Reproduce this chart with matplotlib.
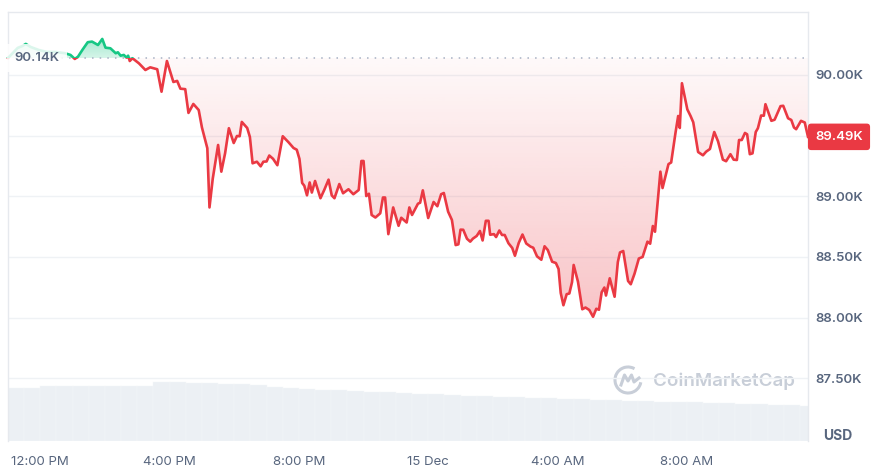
import numpy as np
import matplotlib
matplotlib.use("Agg")
import matplotlib.pyplot as plt
from matplotlib.patches import Rectangle, Arc
from matplotlib.path import Path
from matplotlib.transforms import blended_transform_factory, IdentityTransform

plt.rcParams['font.family'] = ['Inter', 'DejaVu Sans']

# ---------------------------
# Price data (minutes after 12:00 PM, 14 Dec; price in USD)
# ---------------------------
minutes = [
    -60, -51, -42, -33, -27, -18, -3, 12, 28, 46, 56, 64, 70, 78, 88, 96, 107, 115,
    121, 130, 140, 144, 149, 155, 160, 163, 166, 171, 183, 195, 204, 217, 225, 235,
    247, 254, 260, 269, 275, 284, 294, 300, 306, 310, 314, 320, 330, 336, 343, 350,
    359, 365, 370, 374, 384, 389, 394, 402, 409, 414, 420, 425, 432, 440, 450, 461,
    470, 476, 481, 486, 490, 495, 500, 504, 510, 520, 527, 535, 541, 546, 555, 562,
    572, 581, 591, 596, 600, 605, 610, 615, 622, 631, 636, 640, 646, 655, 665, 670,
    680, 685, 690, 701, 705, 710, 720, 730, 737, 744, 749, 757, 764, 771, 776, 780,
    785, 792, 798, 803, 810, 816, 821, 827, 832, 835, 842, 846, 852, 857, 862, 869,
    876, 881, 888, 895, 902, 910, 915, 922, 930, 936, 942, 950, 957, 962, 966, 971,
    977, 982, 987, 990, 998, 1006, 1012, 1019, 1026, 1032, 1037, 1042, 1047, 1050,
    1057, 1066, 1072, 1076, 1082, 1091, 1096, 1103, 1111, 1118, 1127, 1132, 1137,
    1141, 1151, 1155, 1166, 1171, 1179, 1184, 1187, 1191, 1201, 1207, 1212, 1221,
    1230, 1236, 1243, 1251, 1258, 1267, 1273, 1281, 1287, 1293, 1297, 1302, 1308,
    1312, 1317, 1322, 1328, 1332, 1338, 1343, 1346, 1357, 1363, 1374, 1379, 1388,
    1394, 1399, 1403, 1412, 1419, 1425,
]
price = [
    90140, 90181, 90223, 90239, 90256, 90231, 90206, 90190, 90190, 90179, 90165,
    90132, 90151, 90206, 90270, 90275, 90247, 90297, 90225, 90220, 90179, 90187,
    90159, 90165, 90143, 90159, 90115, 90138, 90096, 90041, 90063, 90047, 89862,
    90115, 89942, 89951, 89887, 89883, 89687, 89761, 89711, 89567, 89464, 89396,
    88908, 89143, 89423, 89203, 89355, 89561, 89439, 89497, 89495, 89613, 89563,
    89489, 89272, 89285, 89247, 89285, 89287, 89336, 89309, 89256, 89495, 89444,
    89398, 89384, 89308, 89110, 89087, 89008, 89114, 89031, 89126, 88984, 89052,
    89137, 89007, 88984, 89101, 89025, 89058, 89017, 89052, 89291, 89291, 89002,
    89021, 88846, 88825, 88860, 88990, 88990, 88688, 88908, 88757, 88823, 88784,
    88908, 88846, 88939, 88947, 89049, 88821, 88953, 88918, 89017, 89027, 88873,
    88805, 88598, 88604, 88725, 88724, 88650, 88626, 88651, 88673, 88714, 88636,
    88798, 88798, 88683, 88688, 88664, 88718, 88681, 88681, 88613, 88574, 88510,
    88615, 88685, 88611, 88585, 88576, 88505, 88477, 88588, 88557, 88461, 88450,
    88401, 88203, 88102, 88193, 88199, 88293, 88434, 88296, 88069, 88083, 88063,
    88007, 88073, 88065, 88209, 88248, 88182, 88324, 88172, 88458, 88537, 88549,
    88302, 88275, 88362, 88487, 88500, 88626, 88609, 88755, 88708, 89203, 89068,
    89265, 89279, 89522, 89662, 89563, 89932, 89716, 89662, 89610, 89365, 89338,
    89368, 89390, 89530, 89453, 89302, 89289, 89347, 89302, 89299, 89464, 89464,
    89522, 89511, 89347, 89354, 89530, 89561, 89666, 89664, 89759, 89622, 89631,
    89743, 89746, 89643, 89629, 89567, 89553, 89622, 89608, 89490,
]

# 24h volume, 30-minute bins (billions USD)
vol_minutes = [
    -60, -30, 0, 30, 60, 90, 120, 150, 180, 210, 240, 270, 300, 330, 360, 390,
    420, 450, 480, 510, 540, 570, 600, 630, 660, 690, 720, 750, 780, 810, 840,
    870, 900, 930, 960, 990, 1020, 1050, 1080, 1110, 1140, 1170, 1200, 1230,
    1260, 1290, 1320, 1350, 1380, 1410,
]
volume = [
    53.0, 53.0, 55.0, 55.0, 55.0, 55.0, 55.0, 55.0, 55.5, 59.3, 59.0, 58.5, 58.0,
    57.5, 57.0, 56.0, 54.5, 53.5, 52.5, 51.5, 51.0, 50.5, 49.5, 49.0, 48.0, 47.5,
    47.0, 46.0, 45.5, 45.0, 44.5, 44.0, 43.5, 43.0, 42.5, 42.0, 41.5, 41.0, 40.5,
    40.0, 39.5, 39.2, 39.0, 38.5, 38.0, 37.5, 37.0, 36.5, 36.0, 35.5,
]

open_price = 90140
last_price = 89490

tick_minutes = [0, 240, 480, 720, 960, 1200]
tick_labels = ["12:00 PM", "4:00 PM", "8:00 PM", "15 Dec", "4:00 AM", "8:00 AM"]
price_ticks = [87500, 88000, 88500, 89000, 89500, 90000]
price_labels = ["87.50K", "88.00K", "88.50K", "89.00K", "", "90.00K"]

RED = "#ea3943"
GREEN = "#16c784"
TEXT = "#58667e"
GRID = "#eff2f5"

t = np.array(minutes, dtype=float)
p = np.array(price, dtype=float)

fig = plt.figure(figsize=(8.86, 4.70), dpi=100)
ax_pos = [8 / 886, 1 - 441 / 470, 800 / 886, 429 / 470]

# ---------------------------
# Volume panel (behind the price chart)
# ---------------------------
vax = fig.add_axes([ax_pos[0], ax_pos[1], ax_pos[2], 60 / 470], zorder=0)
vax.bar(vol_minutes, volume, width=30, align='edge', color="#ecf0f4",
        edgecolor="#f4f6f9", linewidth=0.3)
vax.set_xlim(t[0], t[-1])
vax.set_ylim(0, 60)
vax.axis('off')

# ---------------------------
# Price panel
# ---------------------------
ax = fig.add_axes(ax_pos, zorder=1)
ax.patch.set_alpha(0)
ax.set_xlim(t[0], t[-1])
ax.set_ylim(86983, 90519)

for yv in price_ticks:
    ax.axhline(yv, color=GRID, lw=1, zorder=0)


def gradient_fill(mask, rgb, a_base, a_far, far):
    coll = ax.fill_between(t, p, open_price, where=mask, interpolate=True,
                           facecolor='none', edgecolor='none')
    paths = coll.get_paths()
    if not paths:
        return
    clip = Path.make_compound_path(*paths)
    n = 256
    img = np.zeros((n, 1, 4))
    img[..., :3] = rgb
    if far < open_price:
        lo, hi = far, open_price
        img[:, 0, 3] = np.linspace(a_far, a_base, n)
    else:
        lo, hi = open_price, far
        img[:, 0, 3] = np.linspace(a_base, a_far, n)
    im = ax.imshow(img, extent=[t[0], t[-1], lo, hi], origin='lower',
                   aspect='auto', zorder=1, interpolation='bilinear')
    im.set_clip_path(clip, ax.transData)


red_rgb = np.array([234, 57, 67]) / 255
green_rgb = np.array([22, 199, 132]) / 255
gradient_fill(p <= open_price, red_rgb, 0.03, 0.30, p.min())
gradient_fill(p >= open_price, green_rgb, 0.18, 0.40, p.max())

# line, coloured above / below the opening price
for col, y0, h in [(GREEN, open_price, 5000), (RED, open_price - 5000, 5000)]:
    ln, = ax.plot(t, p, color=col, lw=1.9, zorder=3, solid_joinstyle='round')
    ln.set_clip_path(Rectangle((t[0] - 100, y0), 2000, h, transform=ax.transData))

ax.axhline(open_price, color="#a6b0c3", lw=1.1, ls=(0, (1, 4)), zorder=2)

# axes styling
ax.yaxis.tick_right()
ax.set_yticks(price_ticks)
ax.set_yticklabels(price_labels)
ax.set_xticks(tick_minutes)
ax.set_xticklabels(tick_labels)
ax.tick_params(axis='y', length=0, pad=5, labelsize=9.5, labelcolor=TEXT)
ax.tick_params(axis='x', length=0, pad=11, labelsize=9.5, labelcolor=TEXT)
for lbl in ax.get_yticklabels():
    lbl.set_fontweight('semibold')
for side in ['left', 'right', 'top']:
    ax.spines[side].set_color("#e6e9ee")
    ax.spines[side].set_linewidth(1)
ax.spines['bottom'].set_visible(False)

# opening-price tag
ax.annotate("90.14K", xy=(0, open_price),
            xycoords=blended_transform_factory(ax.transAxes, ax.transData),
            xytext=(29, 0), textcoords='offset pixels', ha='center', va='center',
            fontsize=9.5, fontweight='semibold', color=TEXT, zorder=5,
            bbox=dict(boxstyle="square,pad=0.6", fc="white", ec="none", alpha=0.85))

# last-price tag
ax.annotate("89.49K", xy=(1, last_price),
            xycoords=blended_transform_factory(ax.transAxes, ax.transData),
            xytext=(31, 0), textcoords='offset pixels', ha='center', va='center',
            fontsize=9.5, fontweight='semibold', color="white", zorder=6,
            annotation_clip=False,
            bbox=dict(boxstyle="round,pad=0.55,rounding_size=0.25", fc=RED, ec="none"))

fig.text(838 / 886, 1 - 436 / 470, "USD", ha='center', va='center',
         fontsize=10, fontweight='bold', color=TEXT)

# watermark
wm = "#c8ced8"
fig.text(653 / 886, 1 - 381 / 470, "CoinMarketCap", ha='left', va='center',
         fontsize=13.5, fontweight='semibold', color=wm, zorder=0.5)
cx, cy = 628, 470 - 380
fig.add_artist(Arc((cx, cy), 26, 26, theta1=60, theta2=350, color=wm, lw=2.2,
                   transform=IdentityTransform()))
mx = np.array([-7, -3.5, 0, 3.5, 6, 11])
my = np.array([-5, 5, -1, 5, -2, 2])
fig.add_artist(plt.Line2D(cx + mx, cy + my, color=wm, lw=2.2,
                          transform=IdentityTransform(), solid_joinstyle='round'))

fig.savefig("out.png", dpi=100, facecolor="white")
